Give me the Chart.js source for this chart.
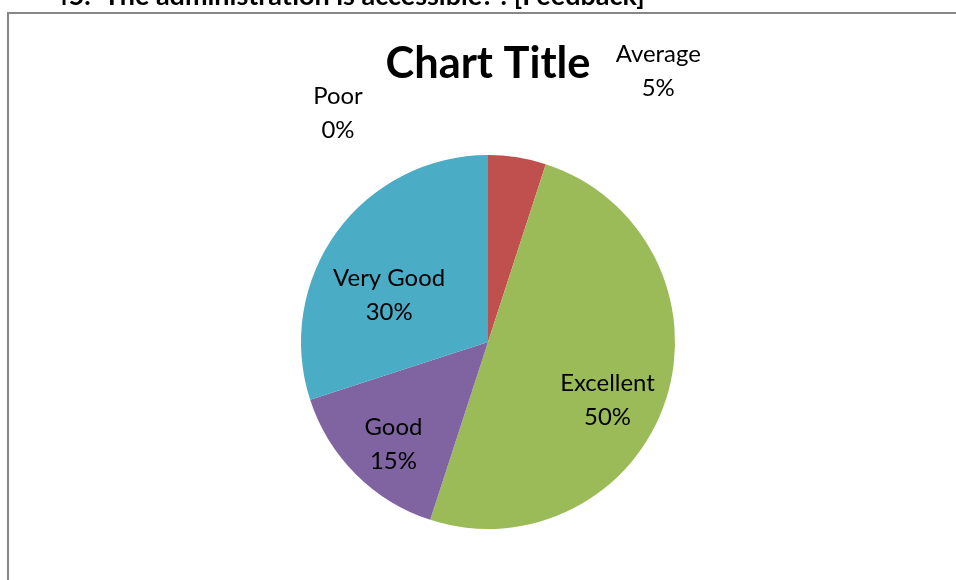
<!DOCTYPE html>
<html>
<head>
<meta charset="utf-8">
<script src="https://cdn.jsdelivr.net/npm/chart.js@4"></script>
<style>
  html, body { margin: 0; padding: 0; background: #ffffff; }
  #wrap { position: relative; width: 956px; height: 580px; overflow: hidden; }
  canvas { display: block; }
</style>
</head>
<body>
<div id="wrap"><canvas id="pie" width="956" height="580"></canvas></div>
<script>
// Survey responses for question 45
const categories = ['Poor', 'Average', 'Excellent', 'Good', 'Very Good'];
const shares = [0, 5, 50, 15, 30];
const sliceColors = ['#4F81BD', '#C0504D', '#9BBB59', '#8064A2', '#4BACC6'];

const questionText = '45.  The administration is accessible? : [Feedback]';
const chartTitle = 'Chart Title';

// Label placement per slice: fraction of radius along the slice's mid-angle,
// plus a nudge in pixels (dx, dy).
const labelRadius = [1.0, 1.0, 0.7, 0.7, 0.7];
const labelNudge = [[-150, -42], [141, -86], [-5, 18], [-2, 10], [7, 30]];

const FONT = 'Lato, "Open Sans", "DejaVu Sans", sans-serif';

// Font size that makes a string span the given width
function fitFont(ctx, text, weight, width) {
  ctx.font = weight + ' 100px ' + FONT;
  const w = ctx.measureText(text).width;
  return 100 * width / w;
}

const framePlugin = {
  id: 'frame',
  beforeDraw(chart) {
    const ctx = chart.ctx;
    ctx.save();
    ctx.fillStyle = '#ffffff';
    ctx.fillRect(0, 0, chart.width, chart.height);
    // question heading above the frame
    const hs = fitFont(ctx, questionText, 'bold', 592);
    ctx.font = 'bold ' + hs + 'px ' + FONT;
    ctx.fillStyle = '#000000';
    ctx.textAlign = 'left';
    ctx.textBaseline = 'alphabetic';
    ctx.fillText(questionText, 53, 5);
    // chart frame
    ctx.strokeStyle = '#878787';
    ctx.lineWidth = 2;
    ctx.strokeRect(8, 13, chart.width + 20, chart.height + 20);
    ctx.restore();
  },
  afterDraw(chart) {
    const ctx = chart.ctx;
    ctx.save();
    // title
    const ts = fitFont(ctx, chartTitle, 'bold', 205);
    ctx.font = 'bold ' + ts + 'px ' + FONT;
    ctx.fillStyle = '#000000';
    ctx.textAlign = 'center';
    ctx.textBaseline = 'alphabetic';
    ctx.fillText(chartTitle, 488, 78);

    // slice labels: category and percentage on two lines
    const meta = chart.getDatasetMeta(0);
    const total = shares.reduce((a, b) => a + b, 0);
    const ls = fitFont(ctx, 'Very Good', 'normal', 112);
    ctx.font = ls + 'px ' + FONT;
    ctx.textBaseline = 'middle';
    meta.data.forEach((arc, i) => {
      const p = arc.getProps(['x', 'y', 'startAngle', 'endAngle', 'outerRadius']);
      const mid = (p.startAngle + p.endAngle) / 2;
      const r = p.outerRadius * labelRadius[i];
      const cx = p.x + Math.cos(mid) * r + labelNudge[i][0];
      const cy = p.y + Math.sin(mid) * r + labelNudge[i][1];
      const pct = Math.round(shares[i] / total * 100) + '%';
      ctx.fillText(categories[i], cx, cy - 17);
      ctx.fillText(pct, cx, cy + 17);
    });
    ctx.restore();
  }
};

new Chart(document.getElementById('pie'), {
  type: 'pie',
  data: {
    labels: categories,
    datasets: [{
      data: shares,
      backgroundColor: sliceColors,
      borderWidth: 0,
      hoverOffset: 0,
      radius: 187
    }]
  },
  options: {
    responsive: false,
    animation: false,
    devicePixelRatio: 1,
    layout: { padding: { left: 20, right: 0, top: 120, bottom: 16 } },
    plugins: {
      legend: { display: false },
      tooltip: { enabled: false },
      title: { display: false }
    },
    events: []
  },
  plugins: [framePlugin]
});
</script>
</body>
</html>
